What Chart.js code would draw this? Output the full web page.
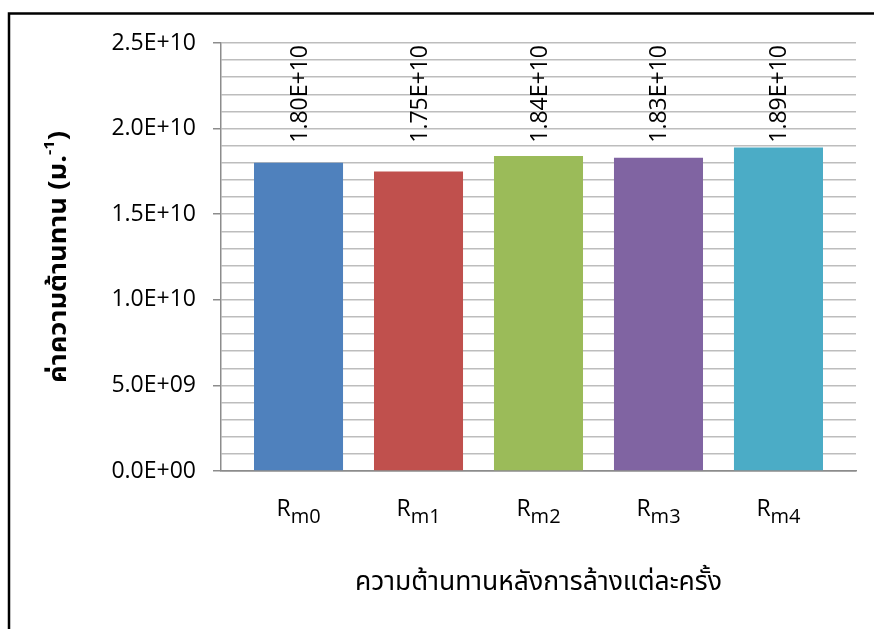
<!DOCTYPE html>
<html>
<head>
<meta charset="utf-8">
<script src="https://cdn.jsdelivr.net/npm/chart.js@4.4.0/dist/chart.umd.min.js"></script>
<style>
  html, body { margin: 0; padding: 0; background: #ffffff; }
  #wrap { width: 874px; height: 629px; }
</style>
</head>
<body>
<div id="wrap"><canvas id="chart" width="874" height="629"></canvas></div>
<script>
// Resistance after each washing cycle
const labelBase = ['R', 'R', 'R', 'R', 'R'];
const labelSub = ['m0', 'm1', 'm2', 'm3', 'm4'];
const resistance = [1.80e10, 1.75e10, 1.84e10, 1.83e10, 1.89e10];
const barColors = ['#4F81BD', '#C0504D', '#9BBB59', '#8064A2', '#4BACC6'];

// Axis settings
const yMin = 0;
const yMax = 2.5e10;
const yMajorStep = 5e9;
const yMinorStep = 1e9;

// Titles
const yTitleMain = 'ค่าความต้านทาน (ม.';
const yTitleSup = '-1';
const yTitleEnd = ')';
const xTitle = 'ความต้านทานหลังการล้างแต่ละครั้ง';

const LATIN = '"Open Sans", "Noto Sans", sans-serif';
const THAI = '"Noto Sans Thai", "Noto Sans Thai UI", "Loma", "Garuda", "Norasi", "Noto Sans", sans-serif';

function sci(v, digits) {
  if (v === 0) return (0).toFixed(digits) + 'E+00';
  const e = Math.floor(Math.log10(Math.abs(v)) + 1e-9);
  const m = v / Math.pow(10, e);
  const sign = e < 0 ? '-' : '+';
  return m.toFixed(digits) + 'E' + sign + String(Math.abs(e)).padStart(2, '0');
}
function isMajor(v) {
  return Math.abs(Math.round(v / yMinorStep) % Math.round(yMajorStep / yMinorStep)) === 0;
}

const framePlugin = {
  id: 'frame',
  beforeDraw(chart) {
    const c = chart.ctx;
    c.save();
    c.fillStyle = '#ffffff';
    c.fillRect(0, 0, chart.width, chart.height);
    c.strokeStyle = '#000000';
    c.lineWidth = 2.5;
    c.strokeRect(9, 13.5, chart.width + 40, chart.height + 40);
    c.restore();
  }
};

const valueLabels = {
  id: 'valueLabels',
  afterDatasetsDraw(chart) {
    const c = chart.ctx;
    const meta = chart.getDatasetMeta(0);
    c.save();
    c.fillStyle = '#000000';
    c.font = '23px ' + LATIN;
    c.textAlign = 'right';
    c.textBaseline = 'alphabetic';
    meta.data.forEach((bar, i) => {
      c.save();
      c.translate(bar.x, chart.chartArea.top + 2);
      c.rotate(-Math.PI / 2);
      c.fillText(sci(resistance[i], 2), 0, 8);
      c.restore();
    });
    c.restore();
  }
};

const axisText = {
  id: 'axisText',
  afterDraw(chart) {
    const c = chart.ctx;
    const area = chart.chartArea;
    const meta = chart.getDatasetMeta(0);
    c.save();
    c.fillStyle = '#000000';
    c.textBaseline = 'alphabetic';
    // category labels with subscripts
    meta.data.forEach((bar, i) => {
      c.font = '23px ' + LATIN;
      const wb = c.measureText(labelBase[i]).width;
      c.font = '20px ' + LATIN;
      const ws = c.measureText(labelSub[i]).width;
      const x0 = bar.x - (wb + ws) / 2;
      c.textAlign = 'left';
      c.font = '23px ' + LATIN;
      c.fillText(labelBase[i], x0, 516);
      c.font = '20px ' + LATIN;
      c.fillText(labelSub[i], x0 + wb, 523);
    });
    // x title
    c.font = '26px ' + THAI;
    c.textAlign = 'center';
    const xw = c.measureText(xTitle).width;
    const xs = 367 / xw;
    c.save();
    c.translate((area.left + area.right) / 2, 590);
    c.scale(xs, 1);
    c.fillText(xTitle, 0, 0);
    c.restore();
    // y title (rotated, bold, with superscript)
    c.save();
    c.translate(66, (area.top + area.bottom) / 2);
    c.rotate(-Math.PI / 2);
    const fMain = 'bold 25px ' + THAI;
    const fSup = 'bold 15px ' + THAI;
    c.font = fMain;
    const w1 = c.measureText(yTitleMain).width;
    const w3 = c.measureText(yTitleEnd).width;
    c.font = fSup;
    const w2 = c.measureText(yTitleSup).width;
    const total = w1 + w2 + w3;
    const ys = 252 / total;
    c.scale(ys, 1);
    let x = -total / 2;
    c.textAlign = 'left';
    c.font = fMain;
    c.fillText(yTitleMain, x, 0);
    x += w1;
    c.font = fSup;
    c.fillText(yTitleSup, x, -12);
    x += w2;
    c.font = fMain;
    c.fillText(yTitleEnd, x, 0);
    c.restore();
    c.restore();
  }
};

new Chart(document.getElementById('chart').getContext('2d'), {
  type: 'bar',
  data: {
    datasets: [{
      data: resistance.map((v, i) => ({ x: i, y: v })),
      backgroundColor: barColors,
      borderWidth: 0,
      categoryPercentage: 1,
      barPercentage: 0.742
    }]
  },
  options: {
    responsive: false,
    animation: false,
    devicePixelRatio: 1,
    layout: { padding: { left: 10, top: 43, right: 18, bottom: 158 } },
    plugins: { legend: { display: false }, tooltip: { enabled: false } },
    scales: {
      x: {
        type: 'linear',
        offset: false,
        min: -0.646,
        max: 4.646,
        grid: { display: false, drawTicks: false },
        border: { display: true, color: '#8c8c8c', width: 1.5 },
        ticks: { display: false, stepSize: 1, includeBounds: false },
        afterFit(s) { s.height = 0; }
      },
      y: {
        min: yMin,
        max: yMax,
        ticks: {
          stepSize: yMinorStep,
          autoSkip: false,
          color: '#000000',
          font: { family: LATIN, size: 23 },
          padding: 17,
          callback: (v) => isMajor(v) ? sci(v, 1) : ''
        },
        grid: {
          color: (ctx) => (ctx.tick && ctx.tick.value === 0) ? '#8c8c8c' : '#bdbdbd',
          lineWidth: 1.5,
          tickLength: 8,
          tickColor: (ctx) => (ctx.tick && isMajor(ctx.tick.value)) ? '#8c8c8c' : 'rgba(0,0,0,0)'
        },
        border: { display: true, color: '#8c8c8c', width: 1.5 },
        afterFit(s) { s.width = 211; }
      }
    }
  },
  plugins: [framePlugin, valueLabels, axisText]
});
</script>
</body>
</html>
